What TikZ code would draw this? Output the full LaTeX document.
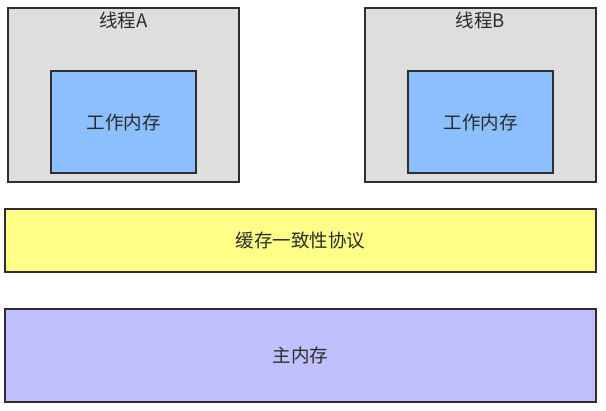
\documentclass[tikz,border=0pt]{standalone}
\usepackage{fontspec}
\setmainfont{Noto Sans CJK SC}
\definecolor{edge}{HTML}{2E2E2E}
\definecolor{grayfill}{HTML}{DEDEDE}
\definecolor{bluefill}{HTML}{8CBFFE}
\definecolor{yellowfill}{HTML}{FFFF88}
\definecolor{purplefill}{HTML}{C0C0FF}
\definecolor{txt}{HTML}{2A2A2A}
\tikzset{
  lbl/.style={text=txt, font=\fontsize{18.5}{22}\selectfont},
  box/.style={draw=edge, line width=2.8pt, rectangle, inner sep=0pt, lbl},
}
\begin{document}
\begin{tikzpicture}[x=1pt,y=-1pt]
\useasboundingbox (0,0) rectangle (606,411);
\node[box, fill=grayfill, minimum width=231pt, minimum height=174pt] (ta) at (123.5,95) {};
\node[box, fill=grayfill, minimum width=231pt, minimum height=174pt] (tb) at (480.5,95) {};
\node[lbl] (la) at (123.5,20) {线程A};
\node[lbl] (lb) at (480.5,20) {线程B};
\node[box, fill=bluefill, minimum width=145pt, minimum height=102pt] (wa) at (123.5,122) {工作内存};
\node[box, fill=bluefill, minimum width=145pt, minimum height=102pt] (wb) at (480.5,122) {工作内存};
\node[box, fill=yellowfill, minimum width=591pt, minimum height=63pt] (cc) at (300.5,240.5) {缓存一致性协议};
\node[box, fill=purplefill, minimum width=591pt, minimum height=93pt] (mm) at (300.5,355.5) {主内存};
\end{tikzpicture}
\end{document}
